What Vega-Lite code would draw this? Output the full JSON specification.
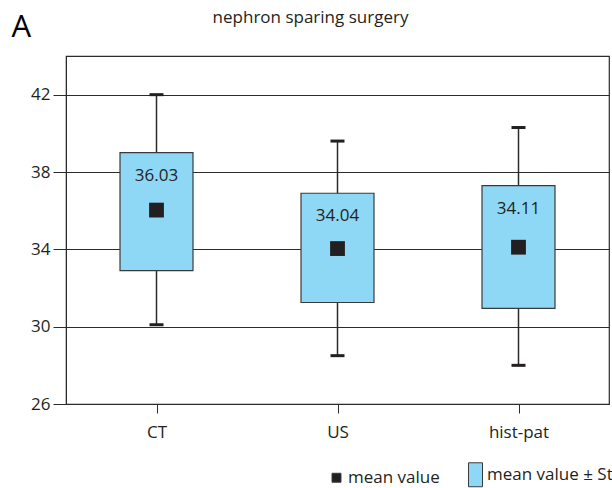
{
  "$schema": "https://vega.github.io/schema/vega-lite/v6.json",
  "autosize": {"type": "none"},
  "padding": {"left": 66, "top": 56, "right": 3, "bottom": 84},
  "width": 543,
  "height": 348,
  "background": "white",
  "config": {
    "font": "Open Sans",
    "view": {"stroke": "#2b2b2b", "strokeWidth": 1.2},
    "axis": {"labelColor": "#231f20", "labelFontSize": 17, "tickColor": "#2b2b2b", "domainColor": "#2b2b2b"}
  },
  "title": {"text": "nephron sparing surgery", "fontSize": 17, "fontWeight": "normal", "color": "#231f20", "anchor": "middle", "frame": "group", "dx": -27, "offset": -16, "font": "Open Sans"},
  "data": {"values": [
    {"method": "CT", "mean": 36.03, "sd_lo": 32.9, "sd_hi": 39.0, "min": 30.1, "max": 42.0},
    {"method": "US", "mean": 34.04, "sd_lo": 31.25, "sd_hi": 36.9, "min": 28.5, "max": 39.6},
    {"method": "hist-pat", "mean": 34.11, "sd_lo": 30.95, "sd_hi": 37.3, "min": 28.0, "max": 40.3}
  ]},
  "encoding": {
    "x": {"field": "method", "type": "nominal", "sort": null,
      "scale": {"type": "point", "padding": 0.5},
      "axis": {"title": null, "labelAngle": 0, "tickSize": 9, "labelPadding": 11, "domain": false, "grid": false}}
  },
  "layer": [
    {
      "mark": {"type": "rule", "stroke": "#2b2b2b", "strokeWidth": 1.5},
      "encoding": {
        "y": {"field": "min", "type": "quantitative",
          "scale": {"domain": [26, 44], "nice": false, "zero": false},
          "axis": {"values": [26, 30, 34, 38, 42], "tickSize": 13, "labelPadding": 3, "grid": true, "gridColor": "#2b2b2b", "gridOpacity": 1, "gridWidth": 1.2,
            "title": "A", "titleAngle": 0, "titleFontSize": 31, "titleFontWeight": 500, "titleColor": "#000000", "titleAlign": "left", "titleBaseline": "alphabetic", "titleX": -55, "titleY": -20}},
        "y2": {"field": "max"}
      }
    },
    {
      "mark": {"type": "tick", "orient": "horizontal", "size": 14, "thickness": 3, "color": "#231f20", "opacity": 1},
      "encoding": {"y": {"field": "min", "type": "quantitative"}}
    },
    {
      "mark": {"type": "tick", "orient": "horizontal", "size": 14, "thickness": 3, "color": "#231f20", "opacity": 1},
      "encoding": {"y": {"field": "max", "type": "quantitative"}}
    },
    {
      "mark": {"type": "bar", "size": 73, "stroke": "#3a3a3a", "strokeWidth": 1.2, "opacity": 1},
      "encoding": {
        "y": {"field": "sd_lo", "type": "quantitative"},
        "y2": {"field": "sd_hi"},
        "fill": {"datum": "mean value ± Std. Dev.", "type": "nominal",
          "scale": {"domain": ["mean value", "mean value ± Std. Dev."], "range": ["#231f20", "#8fd8f5"]},
          "legend": {"title": null, "orient": "none", "legendX": 262, "legendY": 410, "direction": "horizontal",
            "symbolSize": 196, "symbolStrokeColor": "#3a3a3a", "symbolStrokeWidth": 1, "labelFontSize": 17, "labelColor": "#231f20",
            "labelOffset": 3, "labelLimit": 500, "columnPadding": 26, "symbolOpacity": 1}}
      }
    },
    {
      "mark": {"type": "point", "filled": true, "size": 535, "opacity": 1},
      "encoding": {
        "y": {"field": "mean", "type": "quantitative"},
        "fill": {"datum": "mean value", "type": "nominal"},
        "shape": {"datum": "mean value", "type": "nominal",
          "scale": {"domain": ["mean value", "mean value ± Std. Dev."], "range": ["M-0.64,-0.64H0.64V0.64H-0.64Z", "M-1,-1.71H1V1.71H-1Z"]},
          "legend": {"title": null, "orient": "none", "legendX": 262, "legendY": 410, "direction": "horizontal"}}
      }
    },
    {
      "mark": {"type": "text", "baseline": "middle", "align": "center", "dy": 23, "fontSize": 17, "color": "#231f20"},
      "encoding": {
        "y": {"field": "sd_hi", "type": "quantitative"},
        "text": {"field": "mean", "type": "quantitative", "format": ".2f"}
      }
    }
  ]
}
